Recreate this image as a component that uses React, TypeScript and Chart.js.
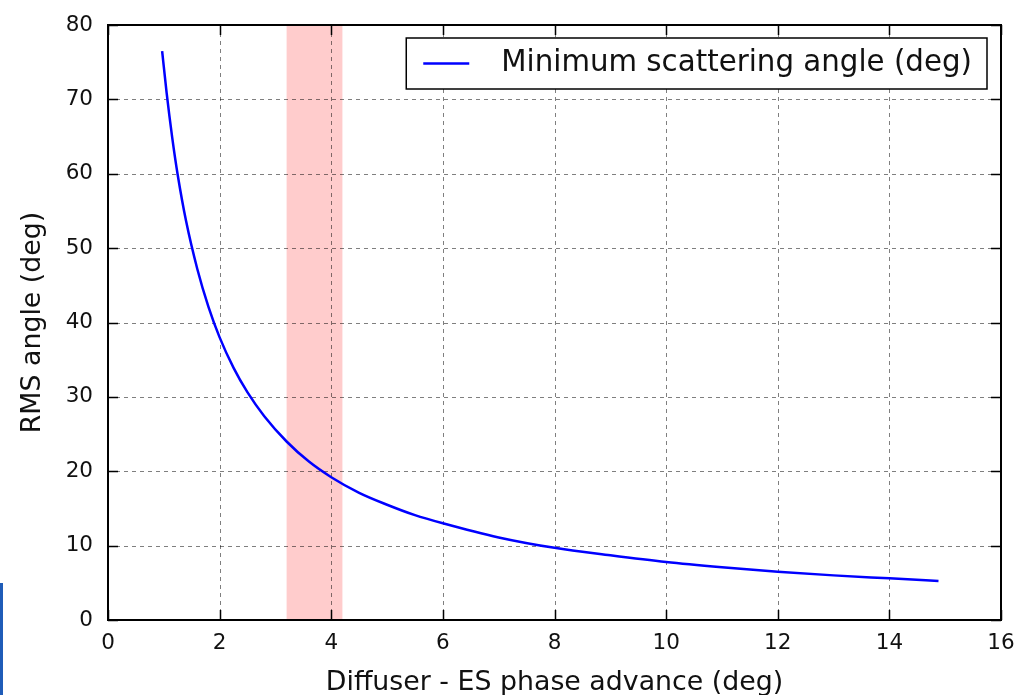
import React, { useEffect, useRef } from "react";
import { Chart, registerables } from "chart.js";

Chart.register(...registerables);

// Minimum RMS scattering angle versus diffuser-to-ES phase advance
const phaseAdvance = [
  0.97, 1.05, 1.15, 1.25, 1.4, 1.6, 1.8, 2.0, 2.25, 2.5, 2.8, 3.2, 3.6, 4.0,
  4.5, 5, 5.5, 6, 7, 8, 9, 10, 11, 12, 13, 14, 14.88,
];
const rmsAngle = [
  76.5, 70.9, 64.9, 59.8, 53.6, 47.2, 42.1, 38.0, 33.9, 30.6, 27.4, 24.0, 21.3,
  19.2, 17.1, 15.5, 14.1, 13.0, 11.1, 9.7, 8.7, 7.8, 7.1, 6.5, 6.0, 5.6, 5.25,
];

// Shaded phase-advance window
const highlightBand = [3.2, 4.2];

const xRange = [0, 16];
const yRange = [0, 80];
const xStep = 2;
const yStep = 10;

const seriesLabel = "Minimum scattering angle (deg)";
const xTitle = "Diffuser - ES phase advance (deg)";
const yTitle = "RMS angle (deg)";

const FONT = "'DejaVu Sans', 'Liberation Sans', sans-serif";
const LINE_COLOR = "#0000ff";
const TEXT_COLOR = "#111111";

// Classic-style axes: shaded band, dotted grid, inward ticks on all sides,
// black frame and a boxed legend in the upper right.
const classicAxes = {
  id: "classicAxes",
  beforeDatasetsDraw(chart: any) {
    const { ctx, chartArea: a, scales } = chart;
    const x = scales.x;
    const y = scales.y;
    ctx.save();

    const b0 = x.getPixelForValue(highlightBand[0]);
    const b1 = x.getPixelForValue(highlightBand[1]);
    ctx.fillStyle = "rgba(255, 0, 0, 0.2)";
    ctx.fillRect(b0, a.top, b1 - b0, a.bottom - a.top);

    ctx.strokeStyle = "rgba(0, 0, 0, 0.5)";
    ctx.lineWidth = 1;
    ctx.setLineDash([4, 4]);
    x.ticks.forEach((t: any) => {
      if (t.value <= xRange[0] || t.value >= xRange[1]) return;
      const px = Math.round(x.getPixelForValue(t.value)) + 0.5;
      ctx.beginPath();
      ctx.moveTo(px, a.top);
      ctx.lineTo(px, a.bottom);
      ctx.stroke();
    });
    y.ticks.forEach((t: any) => {
      if (t.value <= yRange[0] || t.value >= yRange[1]) return;
      const py = Math.round(y.getPixelForValue(t.value)) + 0.5;
      ctx.beginPath();
      ctx.moveTo(a.left, py);
      ctx.lineTo(a.right, py);
      ctx.stroke();
    });
    ctx.restore();
  },
  afterDatasetsDraw(chart: any) {
    const { ctx, chartArea: a, scales } = chart;
    const x = scales.x;
    const y = scales.y;
    const tickLen = 10;
    ctx.save();

    ctx.strokeStyle = "#000";
    ctx.lineWidth = 1.5;
    ctx.setLineDash([]);
    x.ticks.forEach((t: any) => {
      const px = Math.round(x.getPixelForValue(t.value)) + 0.5;
      ctx.beginPath();
      ctx.moveTo(px, a.bottom);
      ctx.lineTo(px, a.bottom - tickLen);
      ctx.moveTo(px, a.top);
      ctx.lineTo(px, a.top + tickLen);
      ctx.stroke();
    });
    y.ticks.forEach((t: any) => {
      const py = Math.round(y.getPixelForValue(t.value)) + 0.5;
      ctx.beginPath();
      ctx.moveTo(a.left, py);
      ctx.lineTo(a.left + tickLen, py);
      ctx.moveTo(a.right, py);
      ctx.lineTo(a.right - tickLen, py);
      ctx.stroke();
    });

    ctx.lineWidth = 2;
    ctx.strokeRect(a.left, a.top, a.right - a.left, a.bottom - a.top);

    // Legend
    const ds = chart.data.datasets[0];
    ctx.font = `29.3px ${FONT}`;
    const textW = ctx.measureText(ds.label).width;
    const padL = 17;
    const sampleW = 46;
    const gap = 32;
    const padR = 15;
    const boxW = padL + sampleW + gap + textW + padR;
    const boxH = 51;
    const boxRight = a.right - 14;
    const boxLeft = boxRight - boxW;
    const boxTop = a.top + 13;
    const midY = boxTop + boxH / 2;

    ctx.fillStyle = "#fff";
    ctx.fillRect(boxLeft, boxTop, boxW, boxH);
    ctx.lineWidth = 1.5;
    ctx.strokeStyle = "#000";
    ctx.strokeRect(boxLeft, boxTop, boxW, boxH);

    ctx.strokeStyle = ds.borderColor;
    ctx.lineWidth = 2.5;
    ctx.beginPath();
    ctx.moveTo(boxLeft + padL, midY);
    ctx.lineTo(boxLeft + padL + sampleW, midY);
    ctx.stroke();

    ctx.fillStyle = TEXT_COLOR;
    ctx.textAlign = "left";
    ctx.textBaseline = "middle";
    ctx.fillText(ds.label, boxLeft + padL + sampleW + gap, midY);

    ctx.restore();
  },
};

export default function App() {
  const canvasRef = useRef<HTMLCanvasElement | null>(null);

  useEffect(() => {
    const canvas = canvasRef.current;
    if (!canvas) return;
    const points = phaseAdvance.map((v, i) => ({ x: v, y: rmsAngle[i] }));

    const chart = new Chart(canvas, {
      type: "line",
      data: {
        datasets: [
          {
            label: seriesLabel,
            data: points,
            borderColor: LINE_COLOR,
            borderWidth: 2.5,
            pointRadius: 0,
            fill: false,
            cubicInterpolationMode: "monotone",
          },
        ],
      },
      options: {
        animation: false,
        responsive: false,
        devicePixelRatio: 1,
        layout: { padding: { left: 0, right: 14, top: 25, bottom: 0 } },
        plugins: {
          legend: { display: false },
          tooltip: { enabled: false },
        },
        scales: {
          x: {
            type: "linear",
            min: xRange[0],
            max: xRange[1],
            ticks: {
              stepSize: xStep,
              font: { family: FONT, size: 21.5 },
              color: TEXT_COLOR,
              padding: 11,
            },
            grid: { display: false, drawTicks: false },
            border: { display: false },
            title: {
              display: true,
              text: xTitle,
              color: TEXT_COLOR,
              font: { family: FONT, size: 26.8, lineHeight: 0.8 },
              padding: { top: 0, bottom: 1 },
            },
            afterFit(scale: any) {
              scale.height = 75;
              scale.paddingLeft = 0;
              scale.paddingRight = 0;
            },
          },
          y: {
            type: "linear",
            min: yRange[0],
            max: yRange[1],
            ticks: {
              stepSize: yStep,
              font: { family: FONT, size: 21.5 },
              color: TEXT_COLOR,
              padding: 15,
            },
            grid: { display: false, drawTicks: false },
            border: { display: false },
            title: {
              display: true,
              text: yTitle,
              color: TEXT_COLOR,
              font: { family: FONT, size: 26.8, lineHeight: 0.8 },
              padding: { top: 22.6, bottom: 0 },
            },
            afterFit(scale: any) {
              scale.width = 108;
              scale.paddingTop = 0;
              scale.paddingBottom = 0;
            },
          },
        },
      },
      plugins: [classicAxes],
    } as any);

    return () => chart.destroy();
  }, []);

  return (
    <div
      style={{
        position: "fixed",
        left: 0,
        top: 0,
        width: 1015,
        height: 695,
        background: "#fff",
        overflow: "hidden",
      }}
    >
      <canvas ref={canvasRef} width={1015} height={695} style={{ display: "block" }} />
      <div
        style={{
          position: "absolute",
          left: 0,
          top: 583,
          width: 3,
          height: 112,
          background: "#1f5cb8",
        }}
      />
    </div>
  );
}
